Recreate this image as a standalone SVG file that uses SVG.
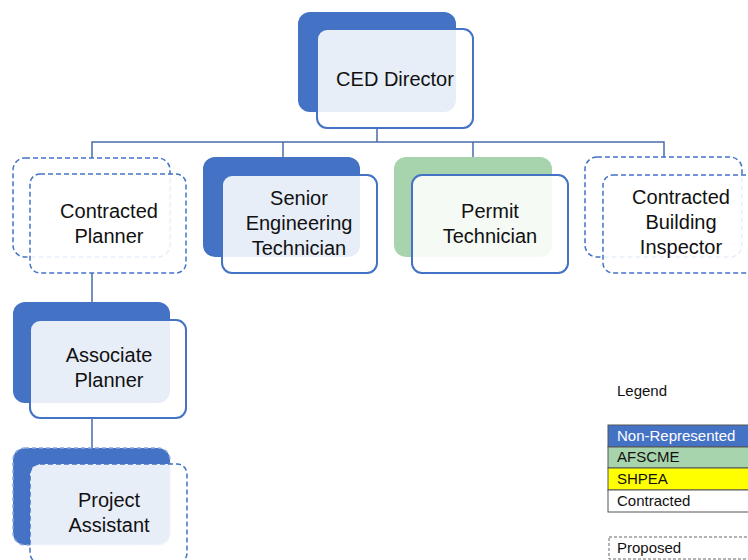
<svg xmlns="http://www.w3.org/2000/svg" width="748" height="560" viewBox="0 0 748 560">
<style>
.bg{fill:#4472C4}
.bgg{fill:#A8D4AD}
.bgd{fill:#fff;stroke:#4472C4;stroke-width:1.5;stroke-dasharray:5 3}
.fr{fill:#fff;fill-opacity:0.88;stroke:#4472C4;stroke-width:2}
.frd{fill:#fff;fill-opacity:0.88;stroke:#4472C4;stroke-width:1.5;stroke-dasharray:5 3}
.t{font-family:"Liberation Sans",Arial,sans-serif;font-size:20px;fill:#111;text-anchor:middle}
.lt{font-family:"Liberation Sans",Arial,sans-serif;font-size:15px;fill:#111}
.conn{fill:none;stroke:#4A6CA8;stroke-width:1.5}
</style>
<rect width="748" height="560" fill="#fff"/>
<g id="connectors" class="conn">
<path d="M377 128 V142 M92 158 V142 H664 V157 M283 142 V157 M473 142 V157 M92 273 V302 M92 418 V448"/>
</g>
<g id="ced-director">
<rect class="bg" x="298" y="12" width="158" height="100" rx="12"/>
<rect class="fr" x="317" y="29" width="156" height="99" rx="10"/>
<text class="t" x="395" y="86">CED Director</text>
</g>
<g id="contracted-planner">
<rect class="bgd" x="13" y="158" width="157" height="99" rx="12"/>
<rect class="frd" x="30" y="174" width="156" height="99" rx="10"/>
<text class="t" x="109" y="218">Contracted</text>
<text class="t" x="109" y="243">Planner</text>
</g>
<g id="senior-engineering-technician">
<rect class="bg" x="203" y="157" width="157" height="100" rx="12"/>
<rect class="fr" x="222" y="175" width="155" height="98" rx="10"/>
<text class="t" x="299" y="205">Senior</text>
<text class="t" x="299" y="230">Engineering</text>
<text class="t" x="299" y="255">Technician</text>
</g>
<g id="permit-technician">
<rect class="bgg" x="394" y="157" width="158" height="100" rx="12"/>
<rect class="fr" x="412" y="175" width="156" height="98" rx="10"/>
<text class="t" x="490" y="218">Permit</text>
<text class="t" x="490" y="243">Technician</text>
</g>
<g id="contracted-building-inspector">
<rect class="bgd" x="585" y="157" width="157" height="100" rx="12"/>
<rect class="frd" x="603" y="175" width="156" height="98" rx="10"/>
<text class="t" x="681" y="204">Contracted</text>
<text class="t" x="681" y="229">Building</text>
<text class="t" x="681" y="254">Inspector</text>
</g>
<g id="associate-planner">
<rect class="bg" x="13" y="302" width="157" height="101" rx="12"/>
<rect class="fr" x="30" y="320" width="156" height="98" rx="10"/>
<text class="t" x="109" y="362">Associate</text>
<text class="t" x="109" y="387">Planner</text>
</g>
<g id="project-assistant">
<rect class="bg" x="13" y="448" width="157" height="97" rx="12" stroke="#8FA9DC" stroke-width="1.5" stroke-dasharray="4 3"/>
<rect class="frd" x="30" y="464" width="157" height="99" rx="10"/>
<text class="t" x="109" y="507">Project</text>
<text class="t" x="109" y="532">Assistant</text>
</g>
<g id="legend">
<text class="lt" x="617" y="396">Legend</text>
<rect x="608" y="425" width="145" height="22" fill="#4472C4" stroke="#555" stroke-width="1"/>
<rect x="608" y="447" width="145" height="21" fill="#A8D4AD" stroke="#555" stroke-width="1"/>
<rect x="608" y="468" width="145" height="22" fill="#FFFF00" stroke="#555" stroke-width="1"/>
<rect x="608" y="490" width="145" height="22" fill="#fff" stroke="#555" stroke-width="1"/>
<text class="lt" x="617" y="441" style="fill:#fff">Non-Represented</text>
<text class="lt" x="617" y="462">AFSCME</text>
<text class="lt" x="617" y="484">SHPEA</text>
<text class="lt" x="617" y="506">Contracted</text>
<rect x="609" y="537" width="145" height="22" fill="#fff" stroke="#666" stroke-width="1" stroke-dasharray="3 2"/>
<text class="lt" x="617" y="553">Proposed</text>
</g>
</svg>
